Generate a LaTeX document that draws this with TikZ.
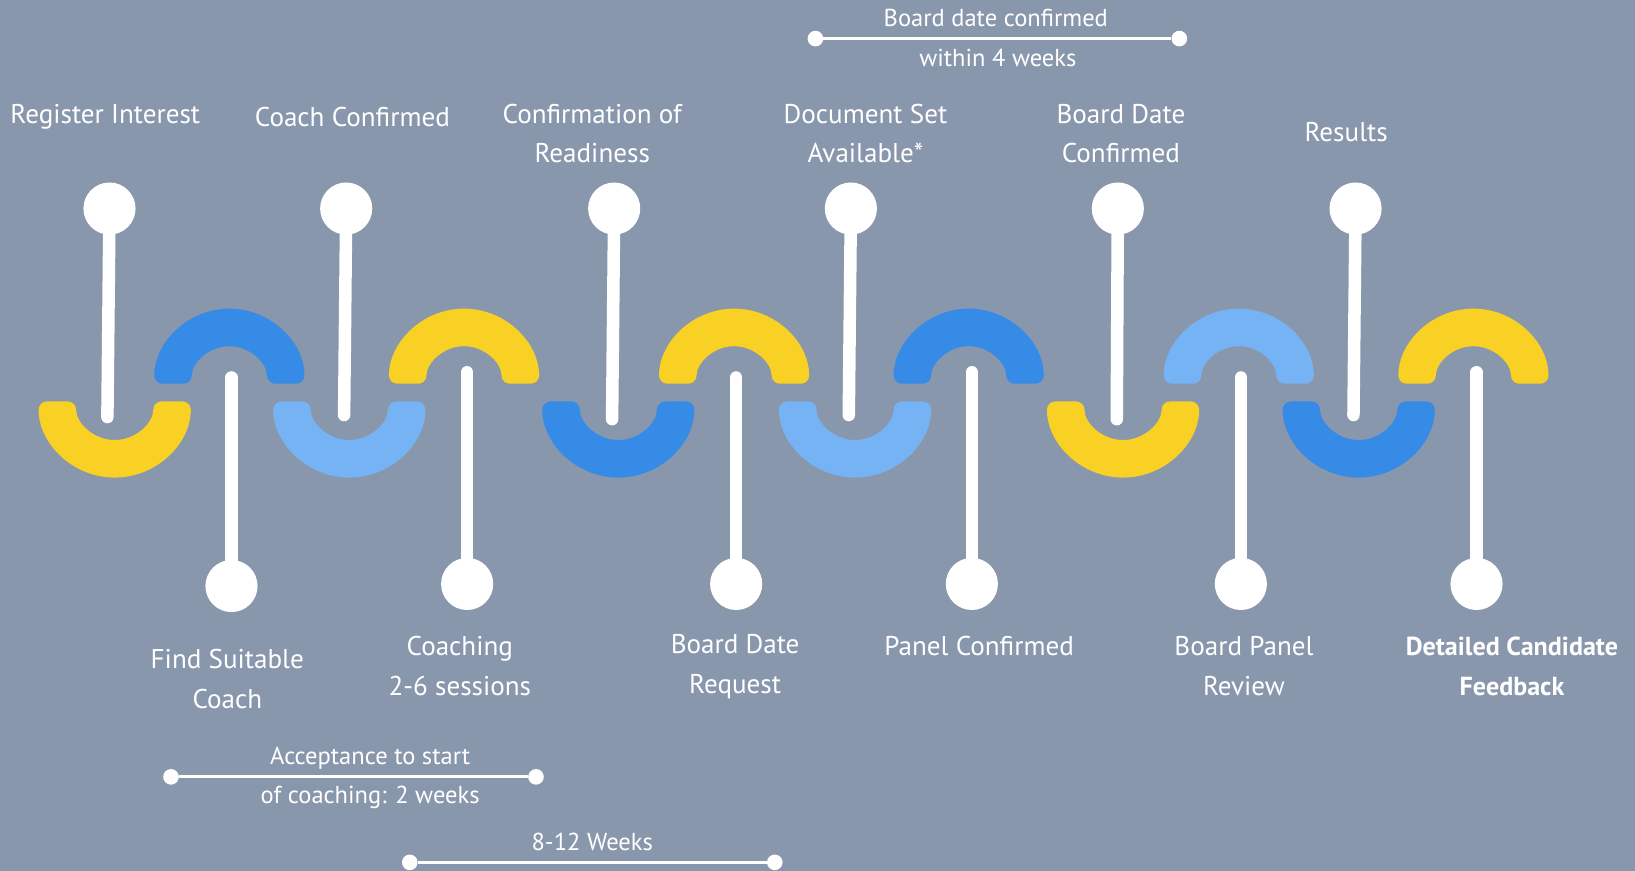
\documentclass[tikz,border=0pt]{standalone}
\usepackage{fontspec}
\setmainfont{PT Sans}
\definecolor{bg}{HTML}{8997AD}
\definecolor{sun}{HTML}{F9D125}
\definecolor{sea}{HTML}{358BE6}
\definecolor{sky}{HTML}{75B3F4}
% half rings: bowl opens upwards, dome opens downwards
\newcommand{\bowl}[2]{\fill[#2,rounded corners=8pt] (#1-73,385) arc (180:0:73) -- (#1+37,385) arc (0:180:37) -- cycle;}
\newcommand{\dome}[2]{\fill[#2,rounded corners=8pt] (#1-72,368) arc (180:360:72) -- (#1+36,368) arc (360:180:36) -- cycle;}

\begin{document}
\begin{tikzpicture}[x=1pt,y=-1pt]
\tikzstyle{pinhead}=[circle,fill=white,minimum size=50pt,inner sep=0pt]
\tikzstyle{stem}=[white,line width=12pt,line cap=round]
\tikzstyle{dot}=[circle,fill=white,minimum size=15pt,inner sep=0pt]
\tikzstyle{bar}=[white,line width=3pt]
\tikzstyle{lbl}=[text=white,align=center,font=\fontsize{26}{38}\selectfont]
\tikzstyle{note}=[text=white,align=center,font=\fontsize{23.5}{24}\selectfont]
\fill[bg] (0,0) rectangle (1568,835);
\useasboundingbox (0,0) rectangle (1568,835);
% rings
\bowl{110}{sun} \bowl{335}{sky} \bowl{593}{sea}
\bowl{820}{sky} \bowl{1077}{sun} \bowl{1303}{sea}
\dome{220}{sea} \dome{445}{sun} \dome{704}{sun}
\dome{929}{sea} \dome{1188}{sky} \dome{1413}{sun}
% upper pins
\node[pinhead] (u1) at (105,200) {};
\node[pinhead] (u2) at (332,200) {};
\node[pinhead] (u3) at (589,200) {};
\node[pinhead] (u4) at (816,200) {};
\node[pinhead] (u5) at (1072,200) {};
\node[pinhead] (u6) at (1300,200) {};
\coordinate (ue1) at (103,400);
\coordinate (ue2) at (330,398);
\coordinate (ue3) at (587,402);
\coordinate (ue4) at (814,398);
\coordinate (ue5) at (1071,402);
\coordinate (ue6) at (1298,398);
\draw[stem] (u1) -- (ue1);
\draw[stem] (u2) -- (ue2);
\draw[stem] (u3) -- (ue3);
\draw[stem] (u4) -- (ue4);
\draw[stem] (u5) -- (ue5);
\draw[stem] (u6) -- (ue6);
% lower pins
\node[pinhead] (d1) at (222,562) {};
\node[pinhead] (d2) at (448,560) {};
\node[pinhead] (d3) at (706,560) {};
\node[pinhead] (d4) at (932,560) {};
\node[pinhead] (d5) at (1190,560) {};
\node[pinhead] (d6) at (1416,560) {};
\coordinate (de1) at (222,362);
\coordinate (de2) at (448,357);
\coordinate (de3) at (706,362);
\coordinate (de4) at (932,357);
\coordinate (de5) at (1190,362);
\coordinate (de6) at (1416,357);
\draw[stem] (d1) -- (de1);
\draw[stem] (d2) -- (de2);
\draw[stem] (d3) -- (de3);
\draw[stem] (d4) -- (de4);
\draw[stem] (d5) -- (de5);
\draw[stem] (d6) -- (de6);
% step names
\node[lbl] (n1) at (101,112) {Register Interest};
\node[lbl] (n2) at (338,112) {Coach Confirmed};
\node[lbl] (n3) at (568,128) {Confirmation of\\Readiness};
\node[lbl] (n4) at (830,128) {Document Set\\Available*};
\node[lbl] (n5) at (1075,128) {Board Date\\Confirmed};
\node[lbl] (n6) at (1291,127) {Results};
\node[lbl] (m1) at (218,651) {Find Suitable\\Coach};
\node[lbl] (m2) at (441,639) {Coaching\\2-6 sessions};
\node[lbl] (m3) at (705,639) {Board Date\\Request};
\node[lbl] (m4) at (939,620) {Panel Confirmed};
\node[lbl] (m5) at (1193,639) {Board Panel\\Review};
\node[lbl,font=\fontsize{25}{38}\selectfont\bfseries] (m6) at (1450,639) {Detailed Candidate\\Feedback};
% durations
\node[dot] (b1) at (782,37) {};
\node[dot] (b2) at (1131,37) {};
\draw[bar] (b1) -- (b2);
\node[note] (bt) at (955,17) {Board date confirmed};
\node[note] (bb) at (957,56) {within 4 weeks};
\node[dot] (a1) at (164,745) {};
\node[dot] (a2) at (514,745) {};
\draw[bar] (a1) -- (a2);
\node[note] (at) at (355,727) {Acceptance to start};
\node[note] (ab) at (355,765) {of coaching: 2 weeks};
\node[dot] (w1) at (393,827) {};
\node[dot] (w2) at (743,827) {};
\draw[bar] (w1) -- (w2);
\node[note] (wt) at (568,807) {8-12 Weeks};
\end{tikzpicture}
\end{document}
